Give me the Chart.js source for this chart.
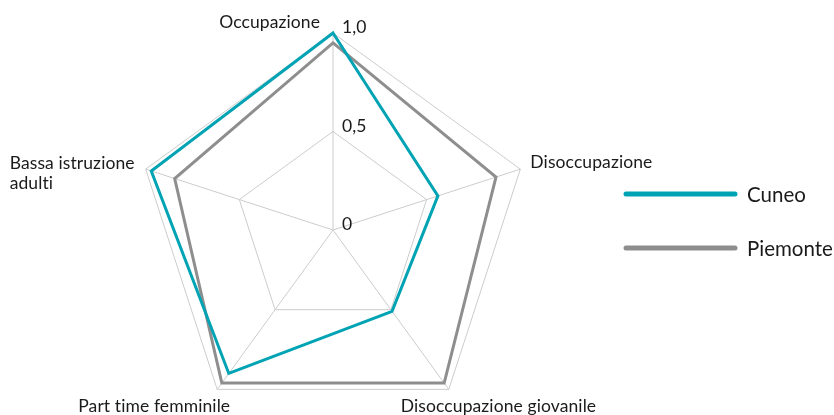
<!DOCTYPE html>
<html>
<head>
<meta charset="utf-8">
<script src="https://cdn.jsdelivr.net/npm/chart.js@4"></script>
<style>
  html, body { margin: 0; padding: 0; background: #fff; overflow: hidden; }
  #wrap { width: 834px; height: 415px; overflow: hidden; }
</style>
</head>
<body>
<div id="wrap"><canvas id="chart" width="834" height="460"></canvas></div>
<script>
const categories = [
  "Occupazione",
  "Disoccupazione",
  "Disoccupazione giovanile",
  "Part time femminile",
  ["Bassa istruzione", "adulti"],
];
const cuneo = [1.0, 0.56, 0.51, 0.9, 0.97];
const piemonte = [0.95, 0.87, 0.96, 0.96, 0.845];
const tickValues = [0, 0.5, 1];
const tickLabels = ["0", "0,5", "1,0"];

const FONT = "Lato, 'Open Sans', sans-serif";

// label placement relative to each outer vertex
const labelPlace = [
  { align: "right", dx: -13, dy: -11 },
  { align: "left", dx: 10, dy: -7 },
  { align: "left", dx: -48, dy: 17 },
  { align: "right", dx: 13, dy: 17 },
  { align: "left", dx: -136, dy: -6 },
];

const textPlugin = {
  id: "texts",
  afterDraw(chart) {
    const ctx = chart.ctx;
    const s = chart.scales.r;
    ctx.save();
    ctx.letterSpacing = "0.1px"; // avoids the Lato "ti" ligature
    ctx.fillStyle = "#1a1a1a";
    ctx.textBaseline = "middle";
    ctx.font = "17.5px " + FONT;
    categories.forEach((lab, i) => {
      const p = s.getPointPositionForValue(i, 1);
      const pl = labelPlace[i];
      ctx.textAlign = pl.align;
      const lines = Array.isArray(lab) ? lab : [lab];
      lines.forEach((t, j) => ctx.fillText(t, p.x + pl.dx, p.y + pl.dy + j * 20));
    });

    // tick labels to the right of the top axis
    ctx.textAlign = "left";
    ctx.textBaseline = "alphabetic";
    tickValues.forEach((v, i) => {
      const p = s.getPointPositionForValue(0, v);
      ctx.fillText(tickLabels[i], p.x + 9, p.y);
    });

    // legend
    ctx.letterSpacing = "0px";
    ctx.textBaseline = "middle";
    ctx.font = "20.5px " + FONT;
    chart.data.datasets.forEach((ds, i) => {
      const y = 194 + i * 54;
      ctx.strokeStyle = ds.borderColor;
      ctx.lineWidth = 5;
      ctx.lineCap = "round";
      ctx.beginPath();
      ctx.moveTo(626, y);
      ctx.lineTo(735, y);
      ctx.stroke();
      ctx.fillText(ds.label, 747, y + 1);
    });
    ctx.restore();
  },
};

new Chart(document.getElementById("chart"), {
  type: "radar",
  data: {
    labels: categories,
    datasets: [
      {
        label: "Cuneo",
        data: cuneo,
        borderColor: "#00a3b3",
        borderWidth: 3,
        fill: false,
        pointRadius: 0,
      },
      {
        label: "Piemonte",
        data: piemonte,
        borderColor: "#8e8e8e",
        borderWidth: 3,
        fill: false,
        pointRadius: 0,
      },
    ],
  },
  options: {
    responsive: false,
    animation: false,
    devicePixelRatio: 1,
    layout: { padding: { left: 136, right: 304, top: 0, bottom: 0 } },
    plugins: { legend: { display: false }, tooltip: { enabled: false } },
    elements: { line: { tension: 0, borderJoinStyle: "miter" } },
    scales: {
      r: {
        min: 0,
        max: 1,
        ticks: { display: false, stepSize: 0.5 },
        grid: { color: "#cccccc", lineWidth: 1 },
        angleLines: { color: "#cccccc", lineWidth: 1 },
        pointLabels: { display: false },
      },
    },
  },
  plugins: [textPlugin],
});
</script>
</body>
</html>
